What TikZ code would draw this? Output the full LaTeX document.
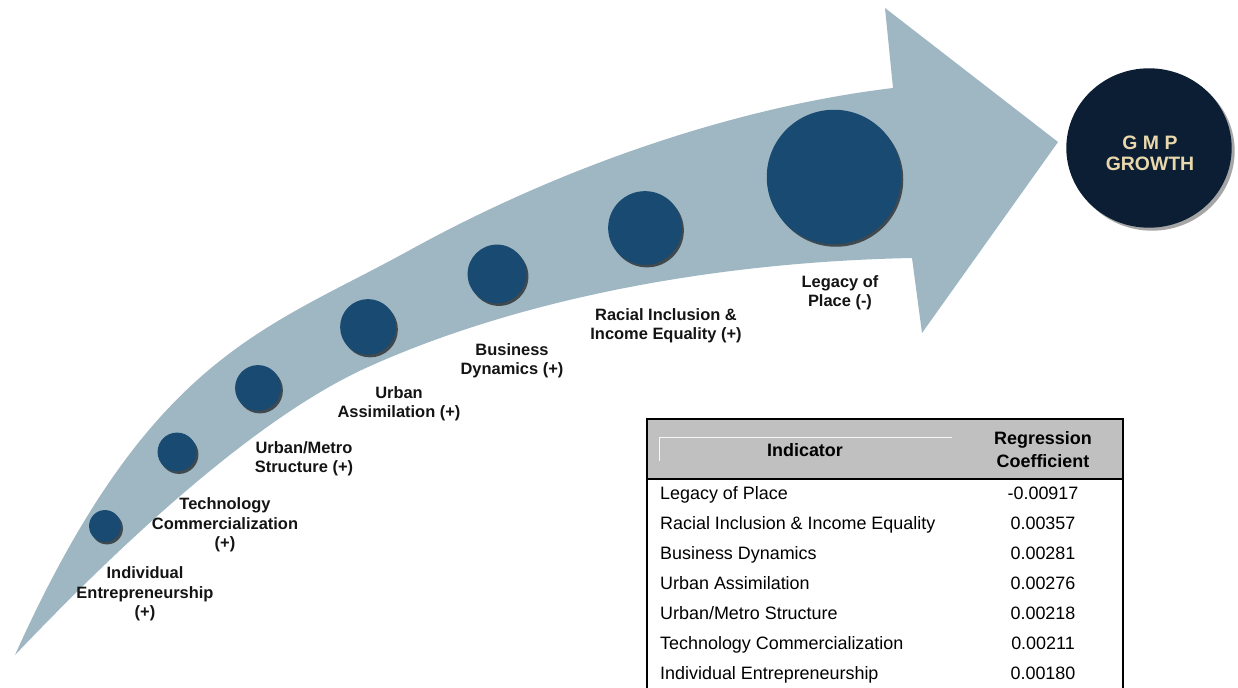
\documentclass[tikz,border=0pt]{standalone}
\usepackage{fontspec}
\setmainfont{Liberation Sans}
\usetikzlibrary{shadows,shapes.geometric}
\definecolor{band}{RGB}{158,183,195}
\definecolor{dotblue}{RGB}{24,74,114}
\definecolor{navy}{RGB}{12,30,52}
\definecolor{gold}{RGB}{232,216,172}
\definecolor{hdr}{RGB}{192,192,192}
\begin{document}
\begin{tikzpicture}[x=1bp,y=-1bp,
  dotc/.style={circle, fill=dotblue, inner sep=0pt, minimum size=#1,
    drop shadow={shadow xshift=2bp, shadow yshift=-2.5bp, opacity=0.6, fill=black}},
  lbl/.style={font=\fontsize{16.5}{19.5}\selectfont\bfseries, align=center, text=black!92, inner sep=0pt},
  hcell/.style={font=\fontsize{18}{23}\selectfont\bfseries, align=center, inner sep=0pt},
  cell/.style={font=\fontsize{18}{20}\selectfont, inner sep=0pt, anchor=base west},
  num/.style={font=\fontsize{18}{20}\selectfont, inner sep=0pt, anchor=base},
]
\useasboundingbox (0,0) rectangle (1238,688);
\clip (0,0) rectangle (1238,688);
\fill[white] (0,0) rectangle (1238,688);

% curved arrow
\fill[band] (15,655) .. controls (150,355) and (265,330) .. (410,250)
  .. controls (570,162) and (743,106) .. (893,88)
  -- (885,8) -- (1058,142) -- (922,333) -- (912,258)
  .. controls (712,262) and (518,299.5) .. (368,367)
  .. controls (258,416.5) and (125,539.5) .. (15,655) -- cycle;

% circles
\node[dotc=32] (c1) at (105,526) {};
\node[dotc=39] (c2) at (177,452) {};
\node[dotc=46] (c3) at (258,388) {};
\node[dotc=56] (c4) at (368,327) {};
\node[dotc=59] (c5) at (497,274) {};
\node[dotc=74] (c6) at (645,228) {};
\node[dotc=135] (c7) at (834,177) {};

% labels
\node[lbl] (l1) at (145,594) {Individual\\Entrepreneurship\\(+)};
\node[lbl] (l2) at (225,525) {Technology\\Commercialization\\(+)};
\node[lbl] (l3) at (304,458.5) {Urban/Metro\\Structure (+)};
\node[lbl] (l4) at (399,403.5) {Urban\\Assimilation (+)};
\node[lbl] (l5) at (512,361) {Business\\Dynamics (+)};
\node[lbl] (l6) at (666,326) {Racial Inclusion \&\\Income Equality (+)};
\node[lbl] (l7) at (840,292.5) {Legacy of\\Place (-)};

% GMP growth
\node[ellipse, fill=navy, minimum width=166, minimum height=160, inner sep=0pt,
  drop shadow={shadow xshift=3bp, shadow yshift=-3bp, opacity=0.35, fill=black}] (gmp) at (1149,148) {};
\node[font=\fontsize{19.5}{21}\selectfont\bfseries, text=gold, align=center, inner sep=0pt] (gmpt) at (1150,153.5) {G M P\\GROWTH};

% table
\fill[hdr] (647,419) rectangle (1123,479);
\draw[white!85!hdr, line width=0.8] (659,461) -- (659,437) -- (952,437);
\draw[line width=2] (647,700) -- (647,419) -- (1123,419) -- (1123,700);
\draw[line width=2.8] (647,479) -- (1123,479);
\node[hcell, anchor=base] (hind) at (805,456) {Indicator};
\node[hcell] (hreg) at (1043,450) {Regression\\Coefficient};

\node[cell] (r1) at (660,499) {Legacy of Place};
\node[cell] (r2) at (660,529) {Racial Inclusion \& Income Equality};
\node[cell] (r3) at (660,559) {Business Dynamics};
\node[cell] (r4) at (660,589) {Urban Assimilation};
\node[cell] (r5) at (660,619) {Urban/Metro Structure};
\node[cell] (r6) at (660,649) {Technology Commercialization};
\node[cell] (r7) at (660,679) {Individual Entrepreneurship};

\node[num] (n1) at (1043,499) {-0.00917};
\node[num] (n2) at (1043,529) {0.00357};
\node[num] (n3) at (1043,559) {0.00281};
\node[num] (n4) at (1043,589) {0.00276};
\node[num] (n5) at (1043,619) {0.00218};
\node[num] (n6) at (1043,649) {0.00211};
\node[num] (n7) at (1043,679) {0.00180};
\end{tikzpicture}
\end{document}
